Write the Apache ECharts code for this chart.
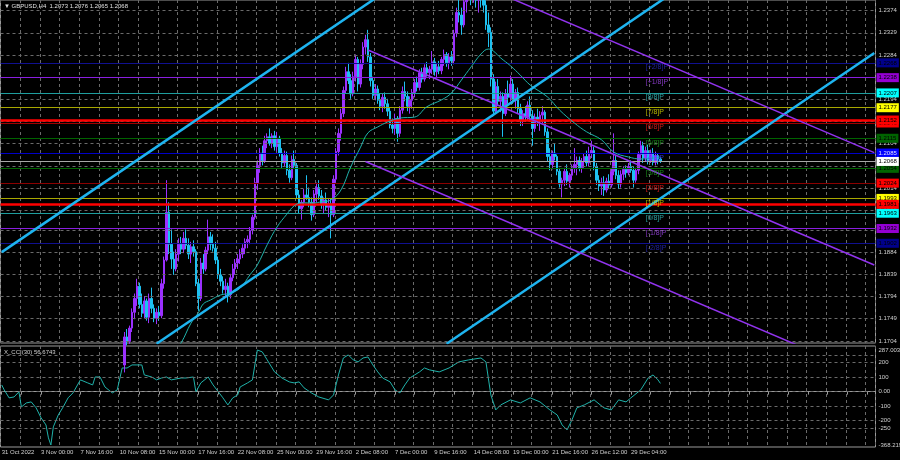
<!DOCTYPE html>
<html><head><meta charset="utf-8">
<script src="https://cdn.jsdelivr.net/npm/echarts@6/dist/echarts.min.js"></script>
<style>html,body{margin:0;padding:0;background:#000}#c{width:900px;height:460px}</style>
</head><body><div id="c"></div>
<script>
// ---------- data ----------
const symbolTitle = '\u25BC GBPUSD,H4  1.2073 1.2076 1.2065 1.2068';
const cciTitle = 'X_CCI(30) 56.6743';
const xLabels = ['31 Oct 2022','3 Nov 00:00','7 Nov 16:00','10 Nov 08:00','15 Nov 00:00','17 Nov 16:00','22 Nov 08:00','25 Nov 00:00','29 Nov 16:00','2 Dec 08:00','7 Dec 00:00','9 Dec 16:00','14 Dec 08:00','19 Dec 00:00','21 Dec 16:00','26 Dec 12:00','29 Dec 04:00'];
const yTicks = [1.2374,1.2329,1.2284,1.2239,1.2194,1.2149,1.2104,1.2059,1.2014,1.1969,1.1929,1.1884,1.1839,1.1794,1.1749,1.1704];
const cciTicks = [287.0035,250,200,100,0,-100,-200,-250,-368.2199];
const cciGrid = [250,200,100,0,-100,-200,-250];
const firstBar = 50;
// [open, close, low, high]
const candles = [
[1.1655,1.1712,1.1640,1.1722],[1.1712,1.1703,1.1695,1.1728],[1.1703,1.1730,1.1698,1.1735],[1.1730,1.1762,1.1722,1.1770],
[1.1762,1.1790,1.1748,1.1800],[1.1790,1.1815,1.1775,1.1830],[1.1815,1.1778,1.1770,1.1822],[1.1778,1.1760,1.1752,1.1800],
[1.1760,1.1785,1.1750,1.1795],[1.1785,1.1752,1.1745,1.1790],[1.1752,1.1790,1.1740,1.1800],[1.1790,1.1770,1.1760,1.1812],
[1.1770,1.1750,1.1742,1.1778],[1.1750,1.1762,1.1738,1.1770],[1.1762,1.1755,1.1745,1.1775],[1.1755,1.1820,1.1750,1.1830],
[1.1820,1.1868,1.1810,1.1875],[1.1868,1.1965,1.1865,1.2030],[1.1965,1.1900,1.1880,1.1985],[1.1900,1.1870,1.1850,1.1930],
[1.1870,1.1850,1.1838,1.1885],[1.1850,1.1880,1.1845,1.1890],[1.1880,1.1900,1.1865,1.1912],[1.1900,1.1890,1.1880,1.1915],
[1.1890,1.1912,1.1882,1.1925],[1.1912,1.1898,1.1890,1.1930],[1.1898,1.1880,1.1870,1.1912],[1.1880,1.1895,1.1862,1.1905],
[1.1895,1.1885,1.1875,1.1908],[1.1885,1.1820,1.1815,1.1890],[1.1820,1.1790,1.1765,1.1830],[1.1790,1.1862,1.1785,1.1872],
[1.1862,1.1850,1.1840,1.1880],[1.1850,1.1888,1.1845,1.1895],[1.1888,1.1915,1.1880,1.1950],[1.1915,1.1900,1.1888,1.1925],
[1.1900,1.1892,1.1885,1.1920],[1.1892,1.1868,1.1860,1.1905],[1.1868,1.1838,1.1830,1.1875],[1.1838,1.1825,1.1815,1.1850],
[1.1825,1.1808,1.1800,1.1835],[1.1808,1.1815,1.1793,1.1830],[1.1815,1.1798,1.1782,1.1822],[1.1798,1.1832,1.1790,1.1840],
[1.1832,1.1850,1.1825,1.1860],[1.1850,1.1862,1.1838,1.1870],[1.1862,1.1870,1.1850,1.1880],[1.1870,1.1880,1.1860,1.1890],
[1.1880,1.1892,1.1872,1.1900],[1.1892,1.1905,1.1880,1.1912],[1.1905,1.1910,1.1892,1.1918],[1.1910,1.1928,1.1900,1.1935],
[1.1928,1.1955,1.1920,1.1960],[1.1955,1.2025,1.1950,1.2035],[1.2025,1.2060,1.2010,1.2070],[1.2060,1.2085,1.2045,1.2095],
[1.2085,1.2070,1.2060,1.2100],[1.2070,1.2110,1.2065,1.2120],[1.2110,1.2118,1.2095,1.2125],[1.2118,1.2105,1.2100,1.2135],
[1.2105,1.2120,1.2095,1.2125],[1.2120,1.2098,1.2090,1.2130],[1.2098,1.2115,1.2088,1.2128],[1.2115,1.2085,1.2078,1.2120],
[1.2085,1.2065,1.2055,1.2095],[1.2065,1.2080,1.2058,1.2090],[1.2080,1.2050,1.2040,1.2088],[1.2050,1.2035,1.2025,1.2062],
[1.2035,1.2072,1.2030,1.2080],[1.2072,1.2060,1.2055,1.2090],[1.2060,1.2000,1.1992,1.2065],[1.2000,1.1972,1.1962,1.2010],
[1.1972,1.1985,1.1950,1.1990],[1.1985,1.2000,1.1975,1.2012],[1.2000,1.1995,1.1990,1.2040],[1.1995,1.1985,1.1975,1.2015],
[1.1985,1.1960,1.1948,1.1995],[1.1960,1.2002,1.1955,1.2010],[1.2002,1.2015,1.1985,1.2025],[1.2015,1.1998,1.1990,1.2030],
[1.1998,1.1980,1.1972,1.2010],[1.1980,1.1990,1.1962,1.1995],[1.1990,1.1975,1.1968,1.2005],[1.1975,1.1982,1.1955,1.1992],
[1.1982,1.1960,1.1912,1.1992],[1.1960,1.2032,1.1955,1.2040],[1.2032,1.2088,1.2025,1.2095],[1.2088,1.2125,1.2080,1.2135],
[1.2125,1.2165,1.2110,1.2175],[1.2165,1.2212,1.2158,1.2220],[1.2212,1.2250,1.2205,1.2260],[1.2250,1.2232,1.2225,1.2268],
[1.2232,1.2205,1.2195,1.2245],[1.2205,1.2240,1.2200,1.2250],[1.2240,1.2275,1.2230,1.2285],[1.2275,1.2225,1.2210,1.2280],
[1.2225,1.2265,1.2218,1.2275],[1.2265,1.2300,1.2255,1.2310],[1.2300,1.2315,1.2285,1.2325],[1.2315,1.2280,1.2270,1.2335],
[1.2280,1.2232,1.2220,1.2288],[1.2232,1.2202,1.2195,1.2240],[1.2202,1.2215,1.2192,1.2225],[1.2215,1.2192,1.2185,1.2222],
[1.2192,1.2180,1.2172,1.2205],[1.2180,1.2198,1.2168,1.2205],[1.2198,1.2185,1.2175,1.2208],[1.2185,1.2170,1.2160,1.2195],
[1.2170,1.2142,1.2135,1.2178],[1.2142,1.2135,1.2125,1.2155],[1.2135,1.2155,1.2122,1.2165],[1.2155,1.2125,1.2108,1.2160],
[1.2125,1.2172,1.2118,1.2180],[1.2172,1.2210,1.2165,1.2220],[1.2210,1.2200,1.2190,1.2230],[1.2200,1.2180,1.2170,1.2210],
[1.2180,1.2192,1.2165,1.2200],[1.2192,1.2208,1.2175,1.2215],[1.2208,1.2228,1.2198,1.2235],[1.2228,1.2218,1.2210,1.2240],
[1.2218,1.2248,1.2212,1.2255],[1.2248,1.2235,1.2228,1.2258],[1.2235,1.2258,1.2230,1.2265],[1.2258,1.2248,1.2240,1.2270],
[1.2248,1.2255,1.2235,1.2262],[1.2255,1.2270,1.2245,1.2292],[1.2270,1.2250,1.2242,1.2278],[1.2250,1.2260,1.2238,1.2268],
[1.2260,1.2252,1.2245,1.2272],[1.2252,1.2275,1.2245,1.2280],[1.2275,1.2285,1.2262,1.2295],[1.2285,1.2268,1.2260,1.2290],
[1.2268,1.2280,1.2255,1.2288],[1.2280,1.2272,1.2262,1.2292],[1.2272,1.2328,1.2265,1.2335],[1.2328,1.2370,1.2320,1.2380],
[1.2370,1.2365,1.2350,1.2443],[1.2365,1.2345,1.2325,1.2380],[1.2345,1.2392,1.2340,1.2400],[1.2392,1.2415,1.2370,1.2430],
[1.2415,1.2420,1.2395,1.2440],[1.2420,1.2405,1.2385,1.2446],[1.2405,1.2420,1.2390,1.2430],[1.2420,1.2395,1.2380,1.2440],
[1.2395,1.2410,1.2370,1.2435],[1.2410,1.2398,1.2380,1.2425],[1.2398,1.2385,1.2370,1.2415],[1.2385,1.2345,1.2335,1.2395],
[1.2345,1.2330,1.2300,1.2370],[1.2330,1.2235,1.2220,1.2340],[1.2235,1.2170,1.2160,1.2245],[1.2170,1.2220,1.2165,1.2230],
[1.2220,1.2190,1.2180,1.2235],[1.2190,1.2200,1.2168,1.2210],[1.2200,1.2165,1.2118,1.2208],[1.2165,1.2205,1.2160,1.2215],
[1.2205,1.2198,1.2185,1.2232],[1.2198,1.2225,1.2190,1.2242],[1.2225,1.2192,1.2185,1.2235],[1.2192,1.2208,1.2175,1.2215],
[1.2208,1.2175,1.2165,1.2218],[1.2175,1.2150,1.2140,1.2185],[1.2150,1.2165,1.2140,1.2172],[1.2165,1.2158,1.2148,1.2180],
[1.2158,1.2182,1.2150,1.2190],[1.2182,1.2160,1.2150,1.2200],[1.2160,1.2135,1.2100,1.2172],[1.2135,1.2158,1.2128,1.2165],
[1.2158,1.2150,1.2140,1.2175],[1.2150,1.2162,1.2130,1.2170],[1.2162,1.2168,1.2145,1.2180],[1.2168,1.2128,1.2120,1.2172],
[1.2128,1.2078,1.2068,1.2135],[1.2078,1.2062,1.2050,1.2095],[1.2062,1.2085,1.2052,1.2090],[1.2085,1.2078,1.2070,1.2105],
[1.2078,1.2048,1.2040,1.2082],[1.2048,1.2022,1.2015,1.2055],[1.2022,1.2030,1.1995,1.2035],[1.2030,1.2048,1.2018,1.2055],
[1.2048,1.2028,1.2020,1.2062],[1.2028,1.2040,1.2015,1.2045],[1.2040,1.2055,1.2030,1.2062],[1.2055,1.2062,1.2045,1.2095],
[1.2062,1.2070,1.2040,1.2078],[1.2070,1.2055,1.2048,1.2078],[1.2055,1.2068,1.2045,1.2075],[1.2068,1.2078,1.2055,1.2085],
[1.2078,1.2065,1.2058,1.2090],[1.2065,1.2085,1.2058,1.2098],[1.2085,1.2090,1.2075,1.2110],[1.2090,1.2058,1.2050,1.2098],
[1.2058,1.2030,1.2020,1.2065],[1.2030,1.2018,1.2008,1.2040],[1.2018,1.2025,1.2000,1.2035],[1.2025,1.2010,1.1998,1.2038],
[1.2010,1.2028,1.2005,1.2035],[1.2028,1.2020,1.2012,1.2042],[1.2020,1.2048,1.2015,1.2055],[1.2048,1.2070,1.2040,1.2125],
[1.2070,1.2040,1.2032,1.2080],[1.2040,1.2022,1.2012,1.2050],[1.2022,1.2042,1.2015,1.2050],[1.2042,1.2052,1.2030,1.2058],
[1.2052,1.2045,1.2035,1.2060],[1.2045,1.2058,1.2040,1.2065],[1.2058,1.2050,1.2045,1.2070],[1.2050,1.2030,1.2015,1.2058],
[1.2030,1.2050,1.2025,1.2055],[1.2050,1.2082,1.2042,1.2088],[1.2082,1.2100,1.2070,1.2110],[1.2100,1.2075,1.2065,1.2108],
[1.2075,1.2090,1.2068,1.2098],[1.2090,1.2070,1.2062,1.2102],[1.2070,1.2085,1.2065,1.2092],[1.2085,1.2066,1.2060,1.2095],
[1.2066,1.2080,1.2060,1.2088],[1.2080,1.2073,1.2062,1.2085],[1.2073,1.2068,1.2065,1.2076]
];
// moving average: [bar index, value]
const maPts = [[71,1.1690],[73,1.1700],[77,1.1740],[80,1.1761],[82,1.1779],[85,1.1787],[89,1.1797],[93,1.1801],[97,1.1811],
[101,1.1838],[104,1.1858],[108,1.1899],[112,1.1935],[116,1.1961],[119,1.1978],[122,1.1984],[127,1.1984],[130,1.1986],
[134,1.1990],[138,1.2010],[142,1.2057],[146,1.2097],[149,1.2126],[153,1.2138],[157,1.2148],[162,1.2156],[168,1.2158],
[173,1.2179],[179,1.2193],[183,1.2207],[187,1.2233],[191,1.2260],[195,1.2286],[198,1.2296],[200,1.2292],[203,1.2278],
[207,1.2262],[211,1.2243],[215,1.2223],[222,1.2199],[227,1.2172],[233,1.2146],[238,1.2128],[244,1.2112],[249,1.2087],
[255,1.2077],[260,1.2073],[265,1.2075],[268,1.2077]];
// CCI(30): [bar index, value]
const cciPts = [[0,46],[1,12],[3,-43],[5,-37],[7,-2],[8,-106],[10,-78],[12,-71],[14,-112],[16,-181],[18,-230],[19,-319],
[20,-368.2199],[21,-243],[23,-161],[25,-106],[27,-43],[29,-9],[32,81],[35,60],[37,46],[38,101],[40,101],[42,32],[45,-9],
[47,12],[49,163],[51,163],[53,184],[55,184],[57,184],[58,115],[61,101],[63,81],[65,94],[67,101],[69,81],[73,94],[75,94],
[78,101],[79,-2],[81,60],[84,101],[86,46],[90,-43],[92,-92],[94,-43],[96,-23],[97,32],[100,60],[102,81],[104,287.0035],
[106,274],[108,219],[111,136],[114,94],[117,67],[119,60],[121,67],[123,26],[126,-9],[129,-37],[133,-57],[135,-23],[137,115],
[139,232],[141,253],[143,219],[145,205],[147,232],[149,239],[151,184],[153,136],[155,94],[158,67],[160,12],[162,-9],[164,46],
[166,94],[168,115],[170,136],[172,163],[174,150],[178,136],[182,163],[186,205],[190,219],[195,232],[197,205],[199,-23],
[201,-126],[203,-92],[207,-57],[211,-78],[215,-43],[219,-71],[223,-126],[226,-161],[228,-230],[230,-264],[232,-195],
[234,-112],[237,-92],[241,-57],[245,-112],[248,-126],[251,-57],[254,-71],[256,-43],[260,12],[263,94],[265,115],[267,81],[268,56.6743]];
// Murrey math levels
const murreyNames = ['[+2/8]P','[+1/8]P','[8/8]P','[7/8]P','[6/8]P','[5/8]P','[4/8]P','[3/8]P','[2/8]P','[1/8]P','[0/8]P','[-1/8]P','[-2/8]P'];
const murreyValues = [1.2268,1.2238,1.2207,1.2177,1.2146,1.2115,1.2085,1.2054,1.2024,1.1993,1.1963,1.1932,1.1902];
const redLevels = [1.2152,1.1981];
const bidPrice = 1.2068;
// trend channels: [[bar, price],[bar, price]]
const blueChannel = [[[0,1.1884],[160,1.2426]],[[63,1.1698],[275,1.2417]],[[181,1.1698],[355,1.2288]]];
const purpleChannel = [[[149,1.2522],[355,1.2086]],[[149,1.2294],[355,1.1858]],[[148,1.2068],[355,1.1629]]];

// ---------- styles ----------
const FONT = 'Liberation Sans';
const FS = 6;
const N_SLOTS = 356;
const murreyStyle = [
  {line:'#101090', box:'#00008b', txt:'#000000', lbl:'#2a2ac8'},
  {line:'#8a1ee0', box:'#9400d3', txt:'#000000', lbl:'#a848f4'},
  {line:'#1e9e9e', box:'#00ffff', txt:'#000000', lbl:'#38c8c8'},
  {line:'#a8a800', box:'#ffff00', txt:'#000000', lbl:'#e0e000'},
  {line:'#a00000', box:'#ff0000', txt:'#000000', lbl:'#ff2020'},
  {line:'#006400', box:'#006400', txt:'#000000', lbl:'#20a820'},
  {line:'#0000c8', box:'#0000ff', txt:'#e0e0ff', lbl:'#4040ff'},
  {line:'#006400', box:'#006400', txt:'#000000', lbl:'#20a820'},
  {line:'#8b0000', box:'#ff0000', txt:'#000000', lbl:'#ff2020'},
  {line:'#a8a800', box:'#ffff00', txt:'#000000', lbl:'#e0e000'},
  {line:'#1e9e9e', box:'#00ffff', txt:'#000000', lbl:'#38c8c8'},
  {line:'#8a1ee0', box:'#9400d3', txt:'#000000', lbl:'#a848f4'},
  {line:'#101090', box:'#00008b', txt:'#000000', lbl:'#2a2ac8'}
];
const GRID_COLOR = '#6a6a6a';
const Y_MIN = 1.16997, Y_MAX = 1.23955;
const C_MIN = -382.0, C_MAX = 314.6;

const cats = Array.from({length: N_SLOTS}, (_, i) => String(i));
const candleData = cats.map((_, i) => {
  const k = i - firstBar;
  return (k >= 0 && k < candles.length) ? candles[k] : ['-','-','-','-'];
});

function boxLabel(text, bg, fg) {
  return {show:true, position:'end', distance:1, formatter:text, backgroundColor:bg, color:fg,
    fontSize:FS, fontFamily:FONT, padding:[1,2,0,2], lineHeight:8};
}
const levelLines = [];
murreyValues.forEach((v, k) => {
  const s = murreyStyle[k];
  levelLines.push({yAxis:v, lineStyle:{color:s.line, width:1, type:'solid'}, label:boxLabel(v.toFixed(4), s.box, s.txt)});
});
redLevels.forEach(v => levelLines.push({yAxis:v, lineStyle:{color:'#ff0000', width:2.5, type:'solid'}, label:boxLabel(v.toFixed(4), '#ff0000', '#000000')}));
levelLines.push({yAxis:bidPrice, lineStyle:{color:'#a8a8a8', width:1, type:'solid'}, label:boxLabel(bidPrice.toFixed(4), '#ffffff', '#000000')});

const murreyLabelData = murreyValues.map((v, k) => ({
  value:[262, v],
  label:{show:true, position:[0, 1], formatter:murreyNames[k], color:murreyStyle[k].lbl, fontSize:7, fontFamily:FONT}
}));

const xyDims = [{name:'x', type:'ordinal'}, {name:'y', type:'float'}];
const series = [
  {type:'line', xAxisIndex:0, yAxisIndex:0, dimensions:xyDims, data:[], z:1, silent:true,
   markLine:{silent:true, symbol:'none', animation:false, precision:6, label:{show:false},
     lineStyle:{color:GRID_COLOR, type:[3,3], width:1}, data:yTicks.map(v => ({yAxis:v}))}},
  {type:'candlestick', xAxisIndex:0, yAxisIndex:0, data:candleData, barWidth:2, z:4,
   itemStyle:{color:'#9b30ff', color0:'#1ec0f0', borderColor:'#9b30ff', borderColor0:'#1ec0f0', borderWidth:1}},
  {type:'line', xAxisIndex:0, yAxisIndex:0, data:maPts, smooth:0.4, showSymbol:false, symbol:'none', z:5,
   lineStyle:{color:'#20b2aa', width:1}},
  {type:'line', xAxisIndex:0, yAxisIndex:0, dimensions:xyDims, data:[], z:5, silent:true,
   markLine:{silent:true, symbol:'none', animation:false, precision:6, data:levelLines}},
];
blueChannel.forEach(seg => series.push({type:'line', xAxisIndex:0, yAxisIndex:0, data:seg, symbol:'none', z:6,
  lineStyle:{color:'#1eb4f0', width:2.5}}));
purpleChannel.forEach(seg => series.push({type:'line', xAxisIndex:0, yAxisIndex:0, data:seg, symbol:'none', z:6,
  lineStyle:{color:'#9133ee', width:1.5}}));
series.push({type:'scatter', xAxisIndex:0, yAxisIndex:0, symbolSize:0, data:murreyLabelData, z:7, silent:true});
series.push({type:'line', xAxisIndex:1, yAxisIndex:1, dimensions:xyDims, data:[], z:1, silent:true,
  markLine:{silent:true, symbol:'none', animation:false, precision:6, label:{show:false},
    lineStyle:{color:GRID_COLOR, type:[3,3], width:1}, data:cciGrid.map(v => ({yAxis:v}))}});
series.push({type:'line', xAxisIndex:1, yAxisIndex:1, data:cciPts, symbol:'none', z:3,
  lineStyle:{color:'#20b2aa', width:1}});

const option = {
  backgroundColor:'#000000',
  animation:false,
  textStyle:{fontFamily:FONT},
  grid:[
    {left:0.5, top:0, width:875, height:343, show:true, borderColor:'#9a9a9a', borderWidth:1, containLabel:false, outerBoundsMode:'none'},
    {left:0.5, top:346, width:875, height:101, show:true, borderColor:'#9a9a9a', borderWidth:1, containLabel:false, outerBoundsMode:'none'}
  ],
  xAxis:[
    {type:'category', gridIndex:0, data:cats, boundaryGap:true,
     axisLine:{show:false}, axisTick:{show:false}, axisLabel:{show:false},
     splitLine:{show:true, interval:(i) => i % 8 === 0, lineStyle:{color:GRID_COLOR, type:[3,3], width:1}}},
    {type:'category', gridIndex:1, data:cats, boundaryGap:true,
     axisLine:{show:true, lineStyle:{color:'#9a9a9a'}},
     axisTick:{show:true, interval:(i) => i % 8 === 0, alignWithLabel:true, length:3, lineStyle:{color:'#9a9a9a'}},
     axisLabel:{show:true, interval:(i) => i % 16 === 0, formatter:(v, i) => xLabels[i / 16] || '',
       align:'left', color:'#d0d0d0', fontSize:FS, fontFamily:FONT, margin:2, hideOverlap:false},
     splitLine:{show:true, interval:(i) => i % 8 === 0, lineStyle:{color:GRID_COLOR, type:[3,3], width:1}}}
  ],
  yAxis:[
    {type:'value', gridIndex:0, position:'right', min:Y_MIN, max:Y_MAX, scale:true,
     axisLine:{show:false}, axisTick:{show:false}, splitLine:{show:false},
     axisLabel:{show:true, customValues:yTicks, formatter:(v) => v.toFixed(4), color:'#d0d0d0', fontSize:FS, fontFamily:FONT, margin:3,
       hideOverlap:false, showMinLabel:true, showMaxLabel:true}},
    {type:'value', gridIndex:1, position:'right', min:C_MIN, max:C_MAX,
     axisLine:{show:false}, axisTick:{show:false}, splitLine:{show:false},
     axisLabel:{show:true, customValues:cciTicks, hideOverlap:false, showMinLabel:true, showMaxLabel:true,
       formatter:(v) => (v === 0 ? '0.00' : String(v)),
       color:'#d0d0d0', fontSize:FS, fontFamily:FONT, margin:3}}
  ],
  graphic:[
    {type:'text', left:4, top:3, style:{text:symbolTitle, fill:'#e0e0e0', font:FS + 'px ' + FONT}},
    {type:'text', left:4, top:349, style:{text:cciTitle, fill:'#d0d0d0', font:FS + 'px ' + FONT}}
  ],
  series:series
};
const chart = echarts.init(document.getElementById('c'));
chart.setOption(option);
</script>
</body></html>
